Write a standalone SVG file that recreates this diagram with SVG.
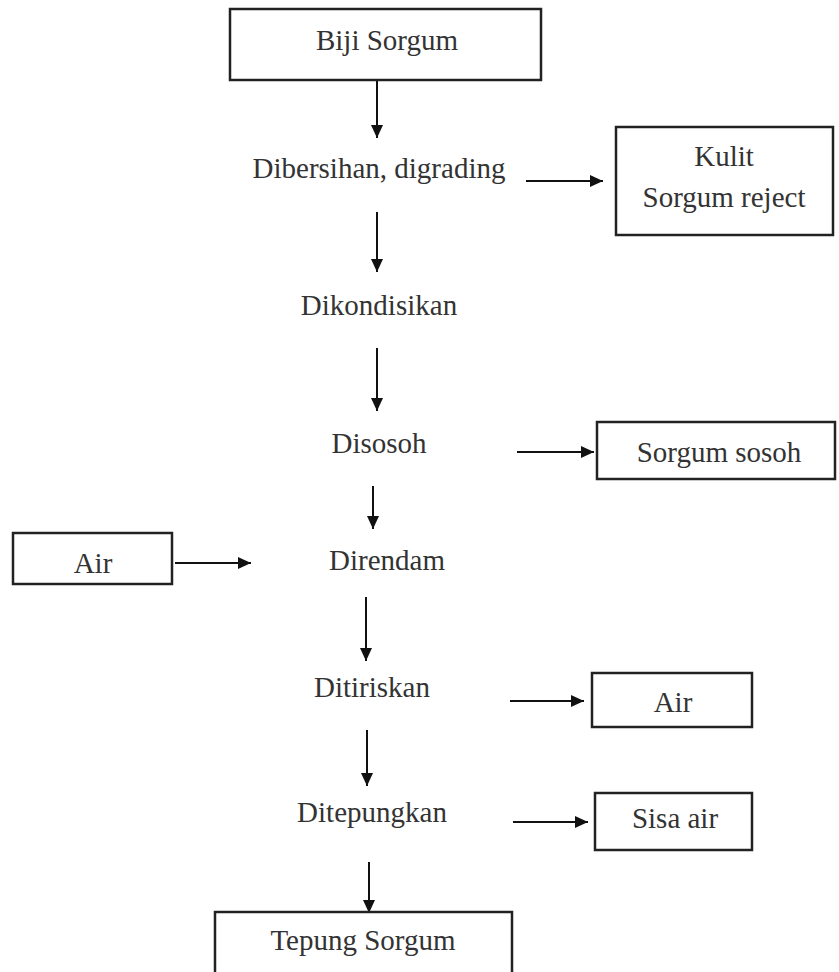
<svg xmlns="http://www.w3.org/2000/svg" width="839" height="972" viewBox="0 0 839 972" font-family="Liberation Serif, Times New Roman, serif">
<style>
text{font-size:29px;fill:#333;text-anchor:middle}
.box{fill:#fff;stroke:#222;stroke-width:2.5}
.c{stroke:#111;stroke-width:2;fill:none;marker-end:url(#ah)}
</style>
<defs>
<marker id="ah" markerUnits="userSpaceOnUse" markerWidth="14" markerHeight="12" refX="13" refY="6" orient="auto">
<path d="M0,0 L13,6 L0,12 z" fill="#111"/>
</marker>
</defs>
<rect width="839" height="972" fill="#fff"/>
<g id="connectors">
<line class="c" x1="377" y1="81" x2="377" y2="138"/>
<line class="c" x1="526" y1="181" x2="603" y2="181"/>
<line class="c" x1="377" y1="212" x2="377" y2="272"/>
<line class="c" x1="377" y1="348" x2="377" y2="411"/>
<line class="c" x1="517" y1="452" x2="594" y2="452"/>
<line class="c" x1="373" y1="486" x2="373" y2="529"/>
<line class="c" x1="175" y1="563" x2="251" y2="563"/>
<line class="c" x1="366" y1="597" x2="366" y2="661"/>
<line class="c" x1="510" y1="701" x2="584" y2="701"/>
<line class="c" x1="367" y1="730" x2="367" y2="786"/>
<line class="c" x1="513" y1="822" x2="588" y2="822"/>
<line class="c" x1="369" y1="862" x2="369" y2="913"/>
</g>
<g id="biji-sorgum"><rect class="box" x="230" y="9" width="311" height="71"/><text font-family="Liberation Serif" x="387" y="50">Biji Sorgum</text></g>
<g id="dibersihan"><text font-family="Liberation Serif" x="379" y="178">Dibersihan, digrading</text></g>
<g id="kulit"><rect class="box" x="616" y="127" width="217" height="108"/><text font-family="Liberation Serif" x="724" y="166">Kulit</text><text font-family="Liberation Serif" x="724" y="207">Sorgum reject</text></g>
<g id="dikondisikan"><text font-family="Liberation Serif" x="379" y="315">Dikondisikan</text></g>
<g id="disosoh"><text font-family="Liberation Serif" x="379" y="453">Disosoh</text></g>
<g id="sorgum-sosoh"><rect class="box" x="597" y="422" width="238" height="57"/><text font-family="Liberation Serif" x="719" y="462">Sorgum sosoh</text></g>
<g id="air-in"><rect class="box" x="13" y="533" width="159" height="51"/><text font-family="Liberation Serif" x="93" y="573">Air</text></g>
<g id="direndam"><text font-family="Liberation Serif" x="387" y="570">Direndam</text></g>
<g id="ditiriskan"><text font-family="Liberation Serif" x="372" y="697">Ditiriskan</text></g>
<g id="air-out"><rect class="box" x="592" y="673" width="160" height="54"/><text font-family="Liberation Serif" x="673" y="712">Air</text></g>
<g id="ditepungkan"><text font-family="Liberation Serif" x="372" y="822">Ditepungkan</text></g>
<g id="sisa-air"><rect class="box" x="595" y="793" width="157" height="57"/><text font-family="Liberation Serif" x="675" y="828">Sisa air</text></g>
<g id="tepung-sorgum"><rect class="box" x="215" y="912" width="297" height="75"/><text font-family="Liberation Serif" x="363" y="950">Tepung Sorgum</text></g>
</svg>
